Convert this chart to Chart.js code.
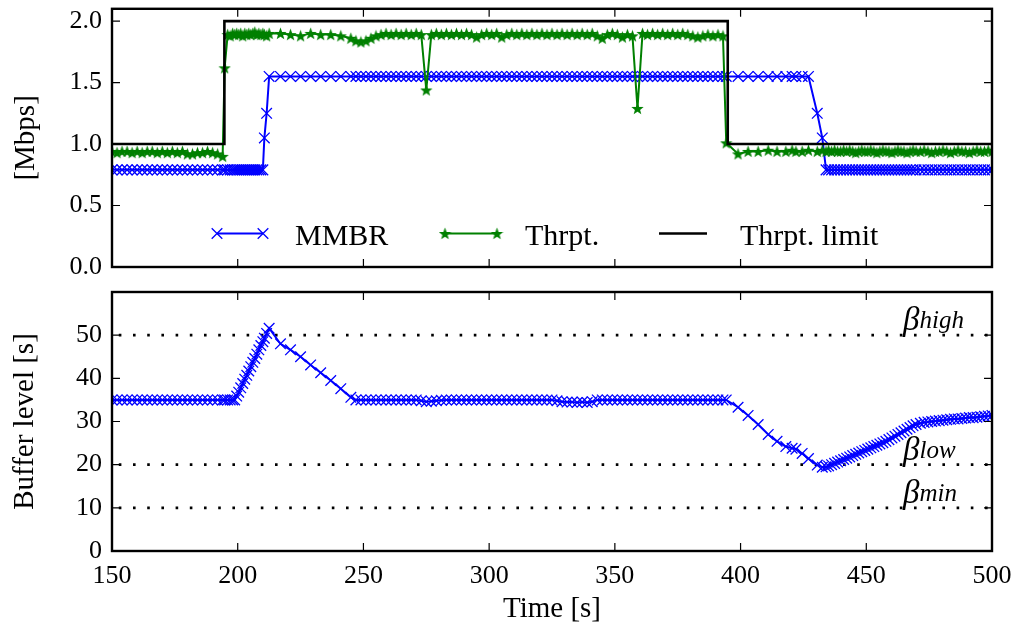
<!DOCTYPE html>
<html>
<head>
<meta charset="utf-8">
<script src="https://cdn.jsdelivr.net/npm/chart.js@4.4.1/dist/chart.umd.min.js"></script>
<style>
  html, body { margin: 0; padding: 0; background: #fff; }
  #wrap { position: relative; width: 1017px; height: 628px; }
  #rateChart { position: absolute; left: 0; top: 0; }
  #bufferChart { position: absolute; left: 0; top: 280px; }
</style>
</head>
<body>
<div id="wrap">
  <canvas id="rateChart" width="1017" height="280"></canvas>
  <canvas id="bufferChart" width="1017" height="348"></canvas>
</div>
<script>
// Axis ticks
const timeTicks = [150, 200, 250, 300, 350, 400, 450, 500];
const rateTicks = [0, 0.5, 1.0, 1.5, 2.0];
const bufferTicks = [0, 10, 20, 30, 40, 50];

// Segment download times [s]
const segTime = [
  150, 152, 154, 156, 158, 160, 162, 164, 166, 168, 170, 172, 174, 176, 178, 180, 182, 184, 186, 188, 190, 192, 194, 194.8,
  196, 197, 198, 198.8, 199.6, 200.4, 201.2, 202, 202.8, 203.6, 204.4, 205.2, 206, 206.8, 207.6, 208.4, 209.2, 210,
  210.6, 211.5, 212.5,
  217, 221, 225, 229, 233, 237, 241, 245,
  247, 249, 251, 253, 255, 257, 259, 261, 263, 265, 267, 269, 271, 273, 275, 277, 279, 281, 283, 285,
  287, 289, 291, 293, 295, 297, 299, 301, 303, 305, 307, 309, 311, 313, 315, 317, 319, 321, 323, 325,
  327, 329, 331, 333, 335, 337, 339, 341, 343, 345, 347, 349, 351, 353, 355, 357, 359, 361, 363, 365,
  367, 369, 371, 373, 375, 377, 379, 381, 383, 385, 387, 389, 391, 393,
  394.3,
  399, 403, 407, 411, 414.5, 418, 420.5, 422, 424.5, 427,
  430.5, 432.5, 434,
  435, 436.2, 437.4, 438.6, 439.8, 441, 442.2, 443.4, 444.6, 445.8, 447, 448.2, 449.4, 450.6, 451.8,
  453, 454.2, 455.4, 456.6, 457.8, 459, 460.2, 461.4, 462.6, 463.8, 465, 466.2, 467.4, 468.6, 469.8,
  471.5, 473, 474.5, 476, 477.5, 479, 480.5, 482, 483.5, 485, 486.5, 488, 489.5, 491, 492.5, 494, 495.5, 497, 498.5, 500
];

// Selected media bitrate [Mbps]
const mmbr = [
  0.79, 0.79, 0.79, 0.79, 0.79, 0.79, 0.79, 0.79, 0.79, 0.79, 0.79, 0.79, 0.79, 0.79, 0.79, 0.79, 0.79, 0.79, 0.79, 0.79, 0.79, 0.79, 0.79, 0.79,
  0.79, 0.79, 0.79, 0.79, 0.79, 0.79, 0.79, 0.79, 0.79, 0.79, 0.79, 0.79, 0.79, 0.79, 0.79, 0.79, 0.79, 0.79,
  1.05, 1.25, 1.55,
  1.55, 1.55, 1.55, 1.55, 1.55, 1.55, 1.55, 1.55,
  1.55, 1.55, 1.55, 1.55, 1.55, 1.55, 1.55, 1.55, 1.55, 1.55, 1.55, 1.55, 1.55, 1.55, 1.55, 1.55, 1.55, 1.55, 1.55, 1.55,
  1.55, 1.55, 1.55, 1.55, 1.55, 1.55, 1.55, 1.55, 1.55, 1.55, 1.55, 1.55, 1.55, 1.55, 1.55, 1.55, 1.55, 1.55, 1.55, 1.55,
  1.55, 1.55, 1.55, 1.55, 1.55, 1.55, 1.55, 1.55, 1.55, 1.55, 1.55, 1.55, 1.55, 1.55, 1.55, 1.55, 1.55, 1.55, 1.55, 1.55,
  1.55, 1.55, 1.55, 1.55, 1.55, 1.55, 1.55, 1.55, 1.55, 1.55, 1.55, 1.55, 1.55, 1.55,
  1.55,
  1.55, 1.55, 1.55, 1.55, 1.55, 1.55, 1.55, 1.55, 1.55, 1.55,
  1.25, 1.05, 0.79,
  0.79, 0.79, 0.79, 0.79, 0.79, 0.79, 0.79, 0.79, 0.79, 0.79, 0.79, 0.79, 0.79, 0.79, 0.79,
  0.79, 0.79, 0.79, 0.79, 0.79, 0.79, 0.79, 0.79, 0.79, 0.79, 0.79, 0.79, 0.79, 0.79, 0.79,
  0.79, 0.79, 0.79, 0.79, 0.79, 0.79, 0.79, 0.79, 0.79, 0.79, 0.79, 0.79, 0.79, 0.79, 0.79, 0.79, 0.79, 0.79, 0.79, 0.79
];

// Measured throughput [Mbps]
const thrpt = [
  0.94, 0.93, 0.94, 0.94, 0.93, 0.94, 0.93, 0.94, 0.94, 0.93, 0.94, 0.93, 0.94, 0.93, 0.94, 0.92, 0.92, 0.93, 0.93, 0.94, 0.93, 0.92, 0.90, 1.62,
  1.89, 1.88, 1.90, 1.89, 1.90, 1.89, 1.90, 1.88, 1.90, 1.89, 1.90, 1.89, 1.90, 1.91, 1.89, 1.90, 1.89, 1.90,
  1.89, 1.88, 1.90,
  1.90, 1.89, 1.88, 1.90, 1.89, 1.89, 1.88, 1.86,
  1.84, 1.83, 1.84, 1.86, 1.88, 1.89, 1.90, 1.89, 1.90, 1.89, 1.90, 1.89, 1.90, 1.89, 1.44, 1.89, 1.90, 1.89, 1.90, 1.89,
  1.90, 1.89, 1.90, 1.89, 1.87, 1.89, 1.90, 1.89, 1.90, 1.87, 1.89, 1.90, 1.89, 1.90, 1.89, 1.90, 1.89, 1.90, 1.89, 1.90,
  1.89, 1.90, 1.89, 1.90, 1.89, 1.90, 1.89, 1.90, 1.88, 1.86, 1.89, 1.90, 1.89, 1.87, 1.89, 1.88, 1.29, 1.90, 1.89, 1.90,
  1.89, 1.90, 1.89, 1.90, 1.89, 1.90, 1.89, 1.88, 1.87, 1.88, 1.89, 1.88, 1.89, 1.88,
  1.01,
  0.92, 0.94, 0.94, 0.95, 0.94, 0.94, 0.95, 0.94, 0.94, 0.95,
  0.94, 0.95, 0.94,
  0.95, 0.94, 0.95, 0.94, 0.94, 0.95, 0.94, 0.95, 0.94, 0.93, 0.94, 0.95, 0.94, 0.94, 0.95,
  0.94, 0.93, 0.94, 0.95, 0.94, 0.94, 0.93, 0.94, 0.95, 0.94, 0.94, 0.93, 0.94, 0.95, 0.94,
  0.94, 0.95, 0.94, 0.93, 0.94, 0.94, 0.95, 0.94, 0.93, 0.94, 0.95, 0.94, 0.94, 0.93, 0.94, 0.95, 0.94, 0.94, 0.95, 0.94
];

// Buffer level [s]
const bufferLevel = [
  35, 35, 35, 35, 35, 35, 35, 35, 35, 35, 35, 35, 35, 35, 35, 35, 35, 35, 35, 35, 35, 35, 35, 35,
  35, 35, 35, 35, 35.9, 36.8, 37.8, 38.8, 39.8, 40.7, 41.7, 42.7, 43.7, 44.6, 45.6, 46.6, 47.6, 48.5,
  49.3, 50.4, 51.6,
  48.0, 46.6, 45.0, 43.1, 41.3, 39.5, 37.6, 35.6,
  35.0, 35.0, 35.0, 35.0, 35.0, 35.0, 35.0, 35.0, 35.0, 35.0, 35.0, 35.0, 35.0, 34.8, 34.6, 34.7, 34.8, 34.9, 35.0, 35.0,
  35.0, 35.0, 35.0, 35.0, 35.0, 35.0, 35.0, 35.0, 35.0, 35.0, 35.0, 35.0, 35.0, 35.0, 35.0, 35.0, 35.0, 35.0, 35.0, 35.0,
  34.8, 34.6, 34.5, 34.5, 34.4, 34.5, 34.4, 34.6, 35.0, 35.0, 35.0, 35.0, 35.0, 35.0, 35.0, 35.0, 35.0, 35.0, 35.0, 35.0,
  35.0, 35.0, 35.0, 35.0, 35.0, 35.0, 35.0, 35.0, 35.0, 35.0, 35.0, 35.0, 35.0, 35.0,
  35.0,
  33.3, 31.4, 29.3, 27.0, 25.4, 24.2, 23.8, 23.6, 22.6, 21.4,
  19.9, 19.4, 19.5,
  19.7, 20.0, 20.3, 20.6, 20.9, 21.2, 21.5, 21.8, 22.1, 22.4, 22.7, 23.0, 23.3, 23.6, 23.9,
  24.2, 24.5, 24.8, 25.1, 25.4, 25.8, 26.2, 26.6, 27.0, 27.4, 27.8, 28.2, 28.6, 29.0, 29.3,
  29.6, 29.8, 29.9, 30.0, 30.1, 30.2, 30.3, 30.4, 30.5, 30.6, 30.6, 30.7, 30.8, 30.9, 30.9, 31.0, 31.1, 31.2, 31.3, 31.4
];

// Throughput cap applied by the link emulator
const limitTime = [150, 194.7, 194.7, 394.9, 394.9, 500];
const limitRate = [1.0, 1.0, 2.0, 2.0, 1.0, 1.0];

// Buffer thresholds
const levelNames = ['high', 'low', 'min'];
const levelValues = [50, 20, 10];

const serif = '"Liberation Serif", "Times New Roman", serif';
Chart.defaults.font.family = serif;
Chart.defaults.color = '#000';
Chart.defaults.animation = false;

function points(xs, ys) {
  return xs.map((x, i) => ({ x: x, y: ys[i] }));
}

// filled five-pointed star used as point marker
function starMarker(size, color) {
  const c = document.createElement('canvas');
  c.width = size;
  c.height = size;
  const g = c.getContext('2d');
  const r = size / 2;
  g.beginPath();
  for (let i = 0; i < 10; i++) {
    const rr = i % 2 ? r * 0.42 : r;
    const ang = -Math.PI / 2 + i * Math.PI / 5;
    g.lineTo(r + rr * Math.cos(ang), r + 0.6 + rr * Math.sin(ang));
  }
  g.closePath();
  g.fillStyle = color;
  g.fill();
  return c;
}
const star = starMarker(13, '#008000');

// box around the plot area with inward ticks on all four sides
const axesFrame = {
  id: 'axesFrame',
  afterDatasetsDraw(chart) {
    const { ctx, chartArea: a, scales } = chart;
    const len = 8;
    ctx.save();
    ctx.strokeStyle = '#000';
    ctx.lineWidth = 1.2;
    ctx.beginPath();
    scales.x.ticks.forEach(t => {
      const px = scales.x.getPixelForValue(t.value);
      ctx.moveTo(px, a.top); ctx.lineTo(px, a.top + len);
      ctx.moveTo(px, a.bottom); ctx.lineTo(px, a.bottom - len);
    });
    scales.y.ticks.forEach(t => {
      const py = scales.y.getPixelForValue(t.value);
      ctx.moveTo(a.left, py); ctx.lineTo(a.left + len, py);
      ctx.moveTo(a.right, py); ctx.lineTo(a.right - len, py);
    });
    ctx.stroke();
    ctx.lineWidth = 2.4;
    ctx.strokeRect(a.left, a.top, a.right - a.left, a.bottom - a.top);
    ctx.restore();
  }
};

// legend row inside the upper plot
const rateLegend = {
  id: 'rateLegend',
  afterDraw(chart) {
    const { ctx, chartArea: a } = chart;
    const y = a.bottom - 33.5;
    const entries = [
      { ds: 2, x0: a.left + 105, x1: a.left + 151, tx: a.left + 183 },
      { ds: 1, x0: a.left + 333, x1: a.left + 385, tx: a.left + 413 },
      { ds: 0, x0: a.left + 547, x1: a.left + 595, tx: a.left + 628 }
    ];
    ctx.save();
    entries.forEach(e => {
      const ds = chart.data.datasets[e.ds];
      ctx.strokeStyle = ds.borderColor;
      ctx.lineWidth = ds.borderWidth;
      ctx.beginPath();
      ctx.moveTo(e.x0, y);
      ctx.lineTo(e.x1, y);
      ctx.stroke();
      if (ds.pointRadius > 0) {
        ctx.lineWidth = ds.pointBorderWidth || 1;
        ctx.fillStyle = ds.borderColor;
        [e.x0, e.x1].forEach(px => {
          Chart.helpers.drawPoint(ctx, {
            pointStyle: ds.pointStyle, radius: ds.pointRadius,
            rotation: 0, borderWidth: ds.pointBorderWidth || 1
          }, px, y);
        });
      }
      ctx.fillStyle = '#000';
      ctx.font = '30px ' + serif;
      ctx.textBaseline = 'alphabetic';
      ctx.textAlign = 'left';
      ctx.fillText(ds.label, e.tx, a.bottom - 22);
    });
    ctx.restore();
  }
};

// beta labels above the threshold lines
const levelLabels = {
  id: 'levelLabels',
  afterDatasetsDraw(chart) {
    const { ctx, scales } = chart;
    const x = scales.x.getPixelForValue(464.6);
    ctx.save();
    ctx.fillStyle = '#000';
    ctx.textAlign = 'left';
    ctx.textBaseline = 'alphabetic';
    levelValues.forEach((v, i) => {
      const py = scales.y.getPixelForValue(v);
      ctx.font = 'italic 33px ' + serif;
      ctx.fillText('\u03b2', x, py - 5);
      const w = ctx.measureText('\u03b2').width;
      ctx.font = 'italic 25px ' + serif;
      ctx.fillText(levelNames[i], x + w, py - 7);
    });
    ctx.restore();
  }
};

function fixedBox(width, height) {
  return function (scale) {
    if (width !== null) scale.width = width;
    if (height !== null) scale.height = height;
    scale.paddingTop = 0;
    scale.paddingBottom = 0;
    scale.paddingLeft = 0;
    scale.paddingRight = 0;
  };
}

function setTicks(values) {
  return function (scale) {
    scale.ticks = values.map(v => ({ value: v }));
  };
}

const markerLine = {
  tension: 0,
  clip: 0,
  pointHoverRadius: 7.5
};

new Chart(document.getElementById('rateChart'), {
  type: 'line',
  data: {
    datasets: [
      {
        label: 'Thrpt. limit',
        data: points(limitTime, limitRate),
        borderColor: '#000000',
        borderWidth: 2.6,
        pointRadius: 0,
        tension: 0,
        clip: 0,
        order: 1
      },
      Object.assign({
        label: 'Thrpt.',
        data: points(segTime, thrpt),
        borderColor: '#008000',
        backgroundColor: '#008000',
        borderWidth: 2,
        pointStyle: star,
        pointRadius: 6,
        pointBorderWidth: 0,
        order: 2
      }, markerLine),
      Object.assign({
        label: 'MMBR',
        data: points(segTime, mmbr),
        borderColor: '#0000ff',
        backgroundColor: 'rgba(0,0,0,0)',
        pointBorderColor: '#0000ff',
        borderWidth: 2,
        pointStyle: 'crossRot',
        pointRadius: 7.5,
        pointBorderWidth: 1.3,
        order: 3
      }, markerLine)
    ]
  },
  options: {
    responsive: false,
    events: [],
    layout: { padding: { top: 7, right: 25, left: 0, bottom: 0 } },
    plugins: { legend: { display: false }, tooltip: { enabled: false } },
    scales: {
      x: {
        type: 'linear', min: 150, max: 500,
        grid: { display: false, drawTicks: false },
        border: { display: false },
        ticks: { display: false },
        afterBuildTicks: setTicks(timeTicks),
        afterFit: fixedBox(null, 13)
      },
      y: {
        min: 0, max: 2.1,
        grid: { display: false, drawTicks: false },
        border: { display: false },
        ticks: { padding: 10, font: { size: 26 }, callback: v => v.toFixed(1) },
        afterBuildTicks: setTicks(rateTicks),
        afterFit: fixedBox(112, null),
        title: { display: true, text: '[Mbps]', font: { size: 29, lineHeight: 1 }, padding: { top: 12, bottom: 0 } }
      }
    }
  },
  plugins: [axesFrame, rateLegend]
});

const levelSets = levelValues.map(v => ({
  label: 'level ' + v,
  data: points([150, 500], [v, v]),
  borderColor: '#000000',
  borderWidth: 2.6,
  borderDash: [2.6, 11.6],
  borderDashOffset: 7.4,
  borderCapStyle: 'butt',
  pointRadius: 0,
  tension: 0,
  order: 2
}));

new Chart(document.getElementById('bufferChart'), {
  type: 'line',
  data: {
    datasets: [
      Object.assign({
        label: 'Buffer level',
        data: points(segTime, bufferLevel),
        borderColor: '#0000ff',
        backgroundColor: 'rgba(0,0,0,0)',
        pointBorderColor: '#0000ff',
        borderWidth: 2,
        pointStyle: 'crossRot',
        pointRadius: 7.5,
        pointBorderWidth: 1.3,
        order: 1
      }, markerLine)
    ].concat(levelSets)
  },
  options: {
    responsive: false,
    events: [],
    layout: { padding: { top: 12, right: 25, left: 0, bottom: 0 } },
    plugins: { legend: { display: false }, tooltip: { enabled: false } },
    scales: {
      x: {
        type: 'linear', min: 150, max: 500,
        grid: { display: false, drawTicks: false },
        border: { display: false },
        ticks: { padding: 10, font: { size: 26 }, maxRotation: 0, autoSkip: false },
        afterBuildTicks: setTicks(timeTicks),
        afterFit: fixedBox(null, 77),
        title: { display: true, text: 'Time [s]', font: { size: 29, lineHeight: 1 }, padding: { top: 0, bottom: 4 } }
      },
      y: {
        min: 0, max: 60,
        grid: { display: false, drawTicks: false },
        border: { display: false },
        ticks: { padding: 10, font: { size: 26 } },
        afterBuildTicks: setTicks(bufferTicks),
        afterFit: fixedBox(112, null),
        title: { display: true, text: 'Buffer level [s]', font: { size: 29, lineHeight: 1 }, padding: { top: 11, bottom: 0 } }
      }
    }
  },
  plugins: [axesFrame, levelLabels]
});
</script>
</body>
</html>
